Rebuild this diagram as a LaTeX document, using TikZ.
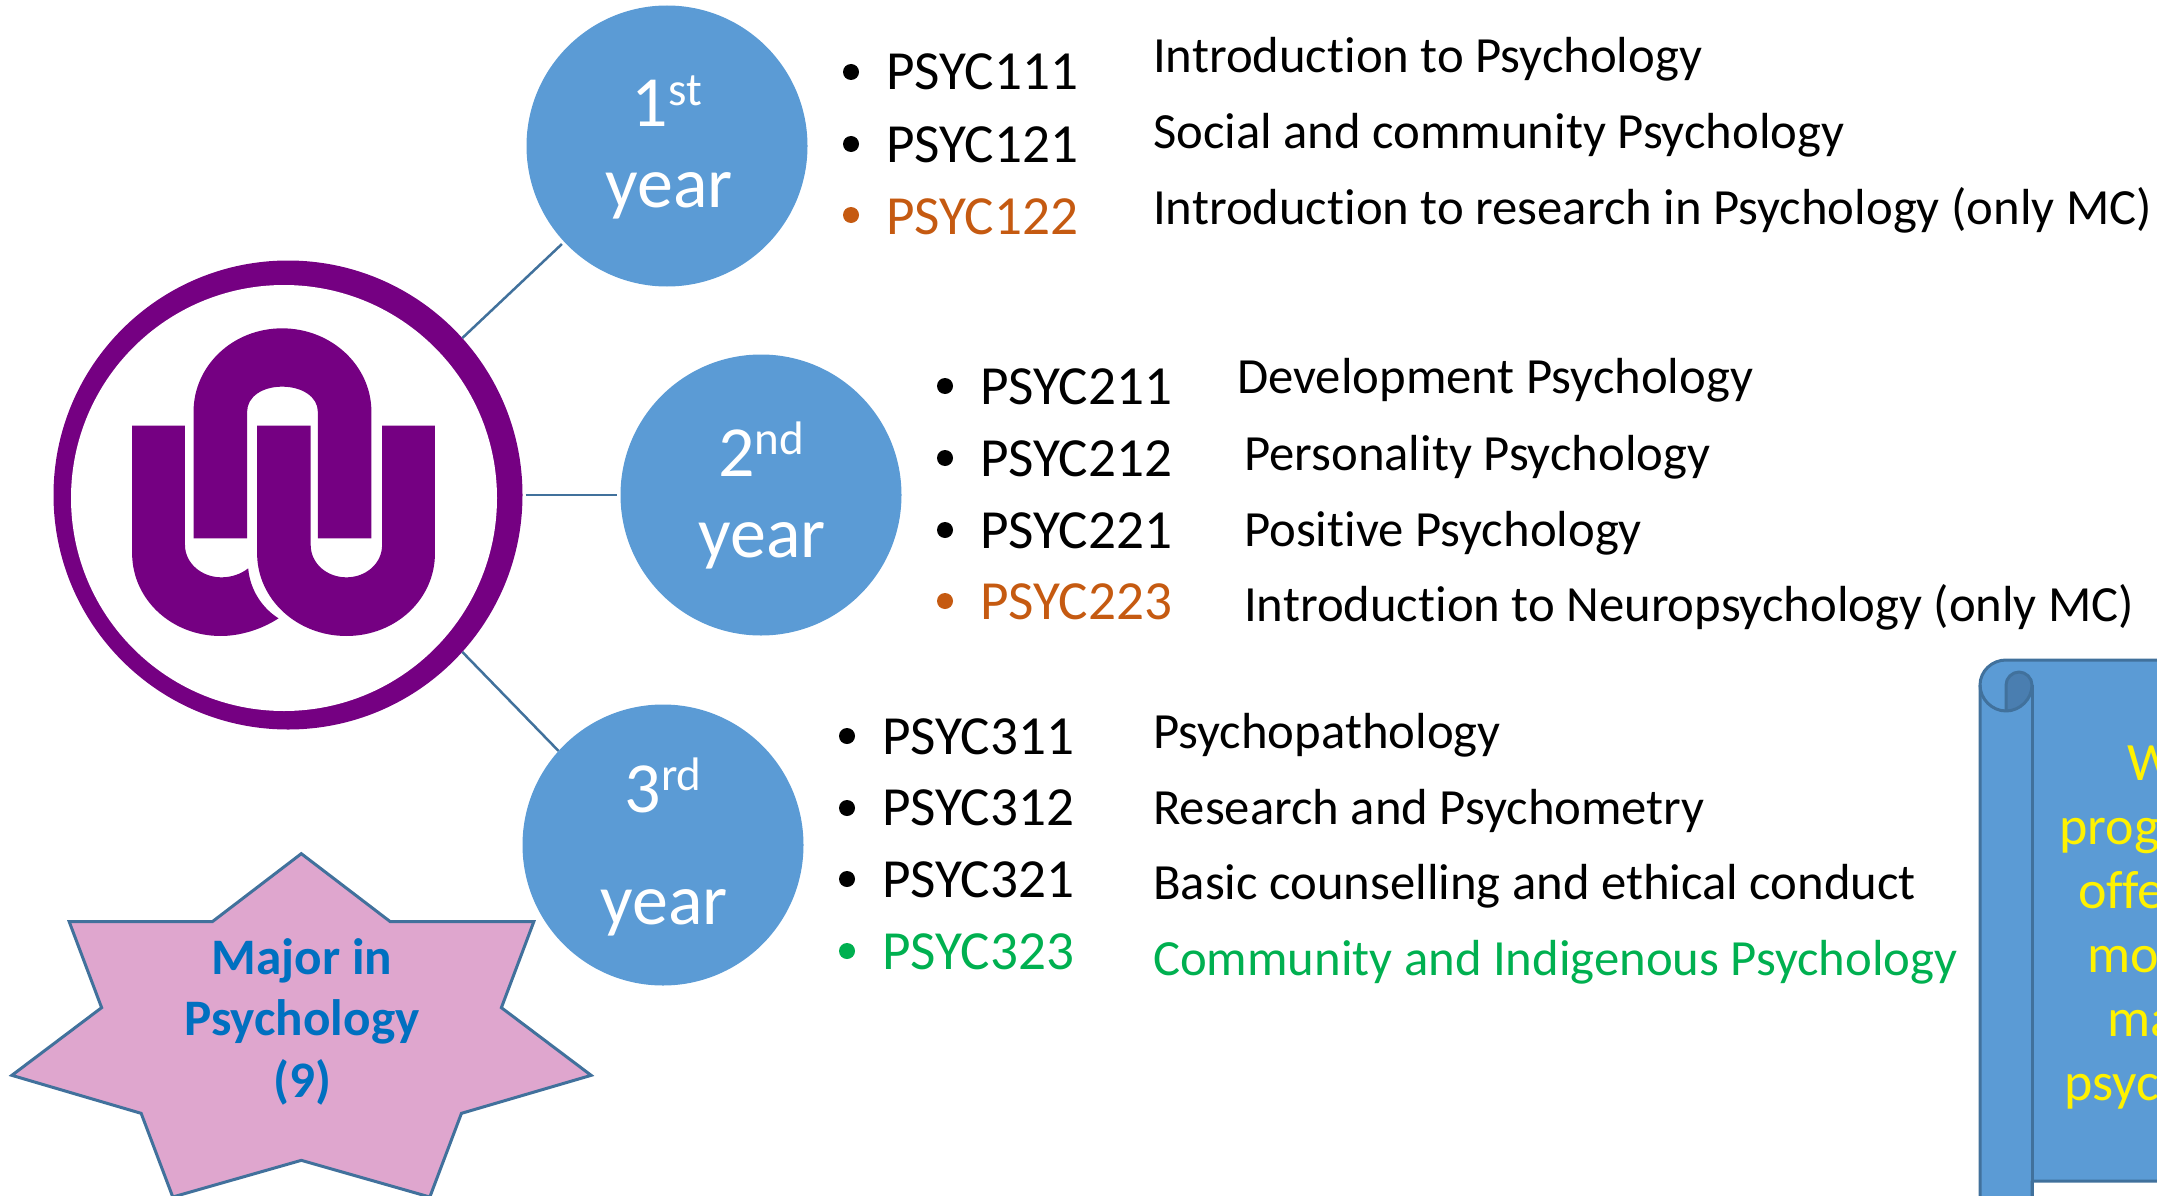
\documentclass[tikz,border=0pt]{standalone}
\usepackage{fontspec}
\setmainfont[Ligatures=NoCommon]{Carlito}
\usetikzlibrary{shapes.geometric}
\definecolor{cblue}{HTML}{5B9BD5}
\definecolor{cline}{HTML}{41719C}
\definecolor{cdark}{HTML}{4A7EB0}
\definecolor{corange}{HTML}{C55A11}
\definecolor{cgreen}{HTML}{00B050}
\definecolor{cpurple}{HTML}{750082}
\definecolor{cpink}{HTML}{DFA6CE}
\definecolor{cmajor}{HTML}{0070C0}
\newcommand{\upper}[1]{\raisebox{0.30em}{\fontsize{47}{47}\selectfont #1}}
\tikzset{
  yearcirc/.style={circle,fill=cblue,minimum size=281pt,inner sep=0pt},
  yeartxt/.style={anchor=base,text=white,font=\fontsize{72}{72}\selectfont,inner sep=0pt},
  link/.style={draw=cline,line width=2.5pt},
  code/.style={anchor=base west,font=\fontsize{55.2}{55.2}\selectfont,inner sep=0pt},
  desc/.style={anchor=base west,font=\fontsize{50.7}{50.7}\selectfont,inner sep=0pt},
  dot/.style={circle,minimum size=16pt,inner sep=0pt},
  scrolltxt/.style={anchor=base west,text=yellow,font=\fontsize{54}{54}\selectfont,inner sep=0pt},
  majortxt/.style={anchor=base,text=cmajor,font=\bfseries\fontsize{51.2}{51.2}\selectfont,inner sep=0pt},
  scrolledge/.style={draw=cline,line width=3pt,line join=round}
}
\begin{document}
\begin{tikzpicture}[x=1pt,y=-1pt]
\useasboundingbox (0,0) rectangle (2157,1196);
\clip (0,0) rectangle (2157,1196);
% logo
\node[circle,fill=cpurple,minimum size=469pt,inner sep=0pt] (logo) at (288,495) {};
\node[circle,fill=white,minimum size=426pt,inner sep=0pt] (logoin) at (284,498) {};
\begin{scope}[shift={(0,230)},xscale=1/2.8,yscale=1/3]
\fill[cpurple] (370,587)--(518,587)--(518,945) .. controls (518,1000) and (565,1042) .. (620,1042) .. controls (648,1042) and (675,1032) .. (695,1015) .. controls (700,1080) and (735,1135) .. (780,1165) .. controls (730,1200) and (670,1218) .. (618,1218) .. controls (480,1218) and (370,1108) .. (370,970) -- cycle;
\fill[cpurple] (720,587)--(870,587)--(870,945) .. controls (870,1000) and (915,1042) .. (970,1042) .. controls (1025,1042) and (1070,1000) .. (1070,945) -- (1070,587)--(1218,587)--(1218,970) .. controls (1218,1108) and (1108,1218) .. (970,1218) .. controls (832,1218) and (720,1108) .. (720,970)--cycle;
\fill[cpurple] (542,925)--(692,925)--(692,545) .. controls (692,500) and (735,470) .. (790,470) .. controls (845,470) and (890,500) .. (890,545)--(890,925)--(1040,925)--(1040,545) .. controls (1040,407) and (928,295) .. (790,295) .. controls (652,295) and (542,407) .. (542,545)--cycle;
\end{scope}
% year circles
\node[yearcirc] (c1) at (667,146) {};
\node[yearcirc] (c2) at (761,495) {};
\node[yearcirc] (c3) at (663,845) {};
\node[yeartxt] (t1a) at (667,127) {1\upper{st}};
\node[yeartxt] (t1b) at (669,207) {year};
\node[yeartxt] (t2a) at (761,476) {2\upper{nd}};
\node[yeartxt] (t2b) at (762,557) {year};
\node[yeartxt] (t3a) at (663,812) {3\upper{rd}};
\node[yeartxt] (t3b) at (664,924) {year};
% connectors
\draw[link,shorten >=3pt] (logo.42) -- (c1.223);
\draw[link,shorten <=3pt,shorten >=3pt] (logo.0) -- (c2.180);
\draw[link] (logo.-42) -- (c3.138);
% year 1
\node[dot,fill=black] (b11) at (851,72) {};
\node[dot,fill=black] (b12) at (851,144) {};
\node[dot,fill=corange] (b13) at (851,215) {};
\node[code] (p11) at (886,90) {PSYC111};
\node[code] (p12) at (886,162) {PSYC121};
\node[code,text=corange] (p13) at (886,234) {PSYC122};
\node[desc] (d11) at (1153,73) {Introduction to Psychology};
\node[desc] (d12) at (1153,149) {Social and community Psychology};
\node[desc] (d13) at (1153,224) {Introduction to research in Psychology (only MC)};
% year 2
\node[dot,fill=black] (b21) at (945,386) {};
\node[dot,fill=black] (b22) at (945,458) {};
\node[dot,fill=black] (b23) at (945,530) {};
\node[dot,fill=corange] (b24) at (945,601) {};
\node[code] (p21) at (980,404) {PSYC211};
\node[code] (p22) at (980,476) {PSYC212};
\node[code] (p23) at (980,548) {PSYC221};
\node[code,text=corange] (p24) at (980,619) {PSYC223};
\node[desc] (d21) at (1237,393) {Development Psychology};
\node[desc] (d22) at (1244,470) {Personality Psychology};
\node[desc] (d23) at (1244,546) {Positive Psychology};
\node[desc] (d24) at (1244,621) {Introduction to Neuropsychology (only MC)};
% year 3
\node[dot,fill=black] (b31) at (847,736) {};
\node[dot,fill=black] (b32) at (847,808) {};
\node[dot,fill=black] (b33) at (847,879) {};
\node[dot,fill=cgreen] (b34) at (847,951) {};
\node[code] (p31) at (882,754) {PSYC311};
\node[code] (p32) at (882,825) {PSYC312};
\node[code] (p33) at (882,897) {PSYC321};
\node[code,text=cgreen] (p34) at (882,969) {PSYC323};
\node[desc] (d31) at (1153,748) {Psychopathology};
\node[desc] (d32) at (1153,824) {Research and Psychometry};
\node[desc] (d33) at (1153,899) {Basic counselling and ethical conduct};
\node[desc,text=cgreen] (d34) at (1153,975) {Community and Indigenous Psychology};
% star
\begin{scope}[shift={(0,831)},xscale=1/2.529,yscale=1/3]
\draw[fill=cpink,draw=cline,line width=3pt,line join=miter] (762,68)--(987,272)--(1350,272)--(1268,530)--(1495,733)--(1167,847)--(1087,1098)--(762,988)--(437,1098)--(357,847)--(30,733)--(257,530)--(175,272)--(537,272)--cycle;
\end{scope}
\node[majortxt] (m1) at (302,974) {Major in};
\node[majortxt] (m2) at (302,1035) {Psychology};
\node[majortxt] (m3) at (302,1097) {(9)};
% scroll
\draw[scrolledge,fill=cblue] (1980,685) .. controls (1980,671) and (1992,660) .. (2006,660) -- (2175,660) -- (2175,1181) -- (2032,1181) -- (2032,1215) -- (1980,1215) -- cycle;
\fill[cdark] (2006,711) -- (2006,685) .. controls (2006,678) and (2012,672) .. (2019,672) .. controls (2026,672) and (2032,678) .. (2032,685) .. controls (2032,699) and (2020,711) .. (2006,711) -- cycle;
\draw[scrolledge] (1980,685) .. controls (1980,699) and (1992,711) .. (2006,711) .. controls (2020,711) and (2032,699) .. (2032,685) .. controls (2032,678) and (2026,672) .. (2019,672) .. controls (2012,672) and (2006,678) .. (2006,685) -- (2006,711);
\draw[scrolledge] (2032,685) -- (2032,1215);
\node[scrolltxt] (s1) at (2127,780) {W};
\node[scrolltxt] (s2) at (2059,844) {prog};
\node[scrolltxt] (s3) at (2078,908) {offe};
\node[scrolltxt] (s4) at (2087,972) {mo};
\node[scrolltxt] (s5) at (2107,1036) {ma};
\node[scrolltxt] (s6) at (2064,1100) {psyc};
\end{tikzpicture}
\end{document}
